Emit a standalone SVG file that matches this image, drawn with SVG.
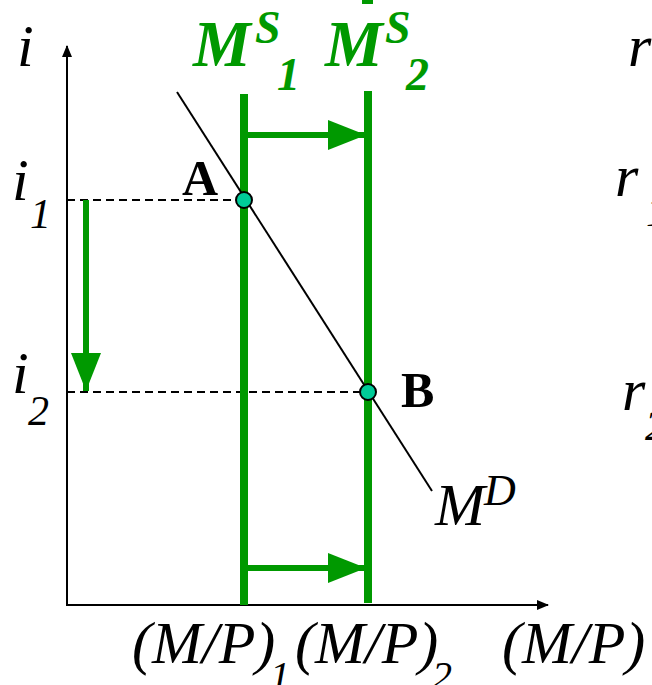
<svg xmlns="http://www.w3.org/2000/svg" width="652" height="685" viewBox="0 0 652 685">
<style>
.ax{stroke:#000;stroke-width:2;fill:none}
.dash{stroke:#000;stroke-width:2;stroke-dasharray:8,5;fill:none}
.ms{stroke:#009900;stroke-width:8;fill:none}
.ga{stroke:#009900;stroke-width:6;fill:none}
.t{font-family:"Liberation Serif","Times New Roman",serif;font-style:italic;fill:#000}
.g{font-family:"Liberation Serif","Times New Roman",serif;font-style:italic;font-weight:bold;fill:#009900}
.b{font-family:"Liberation Serif","Times New Roman",serif;font-weight:bold;fill:#000}
.pt{fill:#00CC99;stroke:#000;stroke-width:2}
</style>
<defs>
<marker id="ah" markerWidth="12" markerHeight="10" refX="11" refY="5" orient="auto" markerUnits="userSpaceOnUse"><path d="M0,0 L12,5 L0,10 Z" fill="#000"/></marker>
<marker id="gh" markerWidth="38" markerHeight="30" refX="38" refY="15" orient="auto" markerUnits="userSpaceOnUse"><path d="M0,0 L38,15 L0,30 Z" fill="#009900"/></marker>
</defs>
<rect x="362" y="0" width="11" height="4" fill="#009900"/>
<g id="axes">
<line class="ax" x1="67" y1="606" x2="67" y2="46" marker-end="url(#ah)"/>
<line class="ax" x1="66" y1="605" x2="548" y2="605" marker-end="url(#ah)"/>
</g>
<g id="connectors">
<line class="dash" x1="67" y1="200" x2="244" y2="200"/>
<line class="dash" x1="67" y1="392" x2="368" y2="392"/>
<line class="ga" x1="248" y1="135" x2="366" y2="135" marker-end="url(#gh)"/>
<line class="ga" x1="248" y1="568" x2="366" y2="568" marker-end="url(#gh)"/>
<line class="ga" x1="86" y1="200" x2="86" y2="391" marker-end="url(#gh)"/>
</g>
<g id="MS1"><line class="ms" x1="244" y1="94" x2="244" y2="605"/>
<text class="g" x="193" y="66" font-size="65">M</text><text class="g" x="255" y="43" font-size="46">S</text><text class="g" x="277" y="90" font-size="46">1</text></g>
<g id="MS2"><line class="ms" x1="368" y1="91" x2="368" y2="603"/>
<text class="g" x="325" y="66" font-size="65">M</text><text class="g" x="385" y="43" font-size="46">S</text><text class="g" x="406" y="90" font-size="46">2</text></g>
<g id="MD"><line stroke="#000" stroke-width="2" x1="177" y1="92" x2="432" y2="491"/>
<text class="t" x="435" y="525" font-size="60">M</text><text class="t" x="484" y="505" font-size="44">D</text></g>
<g id="A"><circle class="pt" cx="244" cy="200" r="8"/><text class="b" x="182" y="195" font-size="50">A</text></g>
<g id="B"><circle class="pt" cx="368" cy="392" r="8"/><text class="b" x="401" y="407" font-size="50">B</text></g>
<g id="labels">
<text class="t" x="17" y="66" font-size="60">i</text>
<text class="t" x="12" y="200" font-size="60">i</text><text class="t" x="30" y="228" font-size="42">1</text>
<text class="t" x="12" y="393" font-size="60">i</text><text class="t" x="28" y="425" font-size="42">2</text>
<text class="t" x="132" y="663" font-size="60">(M/P)</text><text class="t" x="270" y="689" font-size="40">1</text>
<text class="t" x="295" y="663" font-size="60">(M/P)</text><text class="t" x="432" y="689" font-size="40">2</text>
<text class="t" x="502" y="663" font-size="60">(M/P)</text>
<text class="t" x="628" y="66" font-size="60">r</text>
<text class="t" x="615" y="196" font-size="60">r</text><text class="t" x="646" y="226" font-size="42">1</text>
<text class="t" x="622" y="410" font-size="60">r</text><text class="t" x="645" y="440" font-size="42">2</text>
</g>
</svg>
